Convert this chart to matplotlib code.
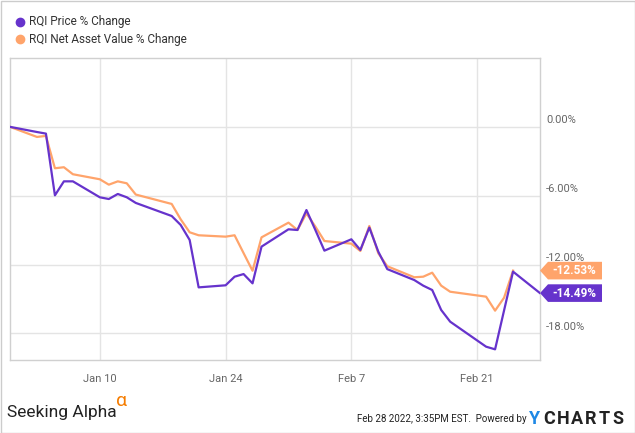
import matplotlib
matplotlib.use('Agg')
import matplotlib.pyplot as plt
import matplotlib.dates as mdates
from matplotlib.lines import Line2D
from matplotlib.patches import Polygon, Rectangle
from matplotlib.transforms import Affine2D, ScaledTranslation
import numpy as np

plt.rcParams['font.family'] = ['Roboto', 'DejaVu Sans']

# trading days, Dec 31 2021 - Feb 28 2022
dates = np.array([
    '2021-12-31', '2022-01-03', '2022-01-04', '2022-01-05', '2022-01-06', '2022-01-07',
    '2022-01-10', '2022-01-11', '2022-01-12', '2022-01-13', '2022-01-14',
    '2022-01-18', '2022-01-19', '2022-01-20', '2022-01-21',
    '2022-01-24', '2022-01-25', '2022-01-26', '2022-01-27', '2022-01-28',
    '2022-01-31', '2022-02-01', '2022-02-02', '2022-02-03', '2022-02-04',
    '2022-02-07', '2022-02-08', '2022-02-09', '2022-02-10', '2022-02-11',
    '2022-02-14', '2022-02-15', '2022-02-16', '2022-02-17', '2022-02-18',
    '2022-02-22', '2022-02-23', '2022-02-24', '2022-02-25', '2022-02-28',
], dtype='datetime64[D]')

price_chg = [
    0.0, -0.45, -0.59, -5.97, -4.75, -4.75,
    -6.14, -6.29, -5.85, -6.14, -6.63,
    -7.77, -8.55, -9.86, -13.99,
    -13.81, -13.06, -12.83, -13.64, -10.44,
    -8.93, -8.99, -7.25, -9.00, -10.79,
    -9.80, -10.73, -8.78, -10.88, -12.40,
    -13.35, -13.84, -14.22, -15.96, -16.98,
    -19.16, -19.39, -16.00, -12.62, -14.49,
]

# NAV not yet reported for Feb 28
nav_chg = [
    0.0, -0.88, -0.79, -3.61, -3.52, -4.13,
    -4.57, -5.04, -4.75, -4.92, -5.90,
    -6.72, -8.06, -9.19, -9.45,
    -9.57, -9.45, -11.00, -12.54, -9.63,
    -8.35, -8.99, -7.54, -8.70, -9.95,
    -10.18, -10.82, -8.64, -11.02, -12.15,
    -13.11, -13.06, -12.71, -13.84, -14.37,
    -14.80, -16.02, -14.89, -12.53,
]

series_names = ['RQI Price % Change', 'RQI Net Asset Value % Change']
price_color = '#6633cc'
nav_color = '#ffa46b'

xtick_dates = np.array(['2022-01-10', '2022-01-24', '2022-02-07', '2022-02-21'], dtype='datetime64[D]')
xtick_labels = ['Jan 10', 'Jan 24', 'Feb 7', 'Feb 21']
yticks = [0, -6, -12, -18]

W, H = 635, 433
fig = plt.figure(figsize=(W / 100, H / 100), dpi=100)
ax = fig.add_axes([10 / W, 1 - 360 / H, 530 / W, 302 / H])

x_price = mdates.date2num(dates)
x_nav = mdates.date2num(dates[:len(nav_chg)])

ax.plot(x_nav, nav_chg, color=nav_color, lw=1.6, zorder=3)
ax.plot(x_price, price_chg, color=price_color, lw=1.6, zorder=4)

ax.set_xlim(x_price[0], x_price[-1])
ax.set_ylim(-20.32, 6.0)

ax.set_xticks(mdates.date2num(xtick_dates))
ax.set_xticklabels(xtick_labels, color='#666666', fontsize=8)
ax.set_yticks(yticks)
ax.tick_params(axis='x', length=0, pad=10)
ax.tick_params(axis='y', length=0, labelleft=False)
ax.grid(True, color='#e4e4e4', lw=1)
ax.set_axisbelow(True)
for sp in ax.spines.values():
    sp.set_color('#d0d0d0')
    sp.set_linewidth(1)

# right-side y labels sit just above their gridlines
for v in yticks:
    ax.annotate(f'{v:.2f}%', xy=(1, v), xycoords=ax.get_yaxis_transform(),
                xytext=(6, 6.5), textcoords='offset pixels', va='center', ha='left',
                color='#666666', fontsize=8, annotation_clip=False)

# end-value flags
def flag(value, color):
    anchor = ScaledTranslation(1, value, ax.get_yaxis_transform())
    verts = [(0, 0), (8, 8.8), (62, 8.8), (62, -8.8), (8, -8.8)]
    poly = Polygon(verts, closed=True, facecolor=color, edgecolor='none',
                   transform=Affine2D() + anchor, clip_on=False, zorder=5)
    ax.add_patch(poly)
    ax.annotate(f'{value:.2f}%', xy=(1, value), xycoords=ax.get_yaxis_transform(),
                xytext=(34, 0), textcoords='offset pixels', ha='center', va='center',
                color='white', fontsize=8.5, fontweight='bold', zorder=6,
                annotation_clip=False)

flag(nav_chg[-1], nav_color)
flag(price_chg[-1], price_color)

# legend
for i, (name, c) in enumerate(zip(series_names, [price_color, nav_color])):
    yy = 1 - (22 + 17 * i) / H
    fig.add_artist(Line2D([20 / W], [yy], marker='o', ms=6, color=c, ls='',
                          transform=fig.transFigure))
    fig.text(29 / W, yy, name, va='center', ha='left', fontsize=8.5, color='#333333')

# footer
fig.text(7 / W, 1 - 413 / H, 'Seeking Alpha', fontsize=12.5, va='center', ha='left', color='#222222')
fig.text(116 / W, 1 - 401 / H, 'α', fontsize=14, va='center', ha='left', color='#f57c00')
fig.text(527 / W, 1 - 419 / H, 'Feb 28 2022, 3:35PM EST.  Powered by', fontsize=7,
         va='center', ha='right', color='#222222')
fig.text(529 / W, 1 - 419.5 / H, 'Y', fontsize=13, fontweight='bold', va='center', ha='left',
         color='#1e88e5')
for i, ch in enumerate('CHARTS'):
    fig.text((543 + 13.9 * i) / W, 1 - 419.5 / H, ch, fontsize=13, fontweight='bold',
             va='center', ha='left', color='#222222')

# outer frame
fig.add_artist(Rectangle((0.5 / W, 0.5 / H), 1 - 1 / W, 1 - 1 / H, transform=fig.transFigure,
                         fill=False, edgecolor='#cccccc', lw=1))

fig.savefig('out.png', dpi=100)
